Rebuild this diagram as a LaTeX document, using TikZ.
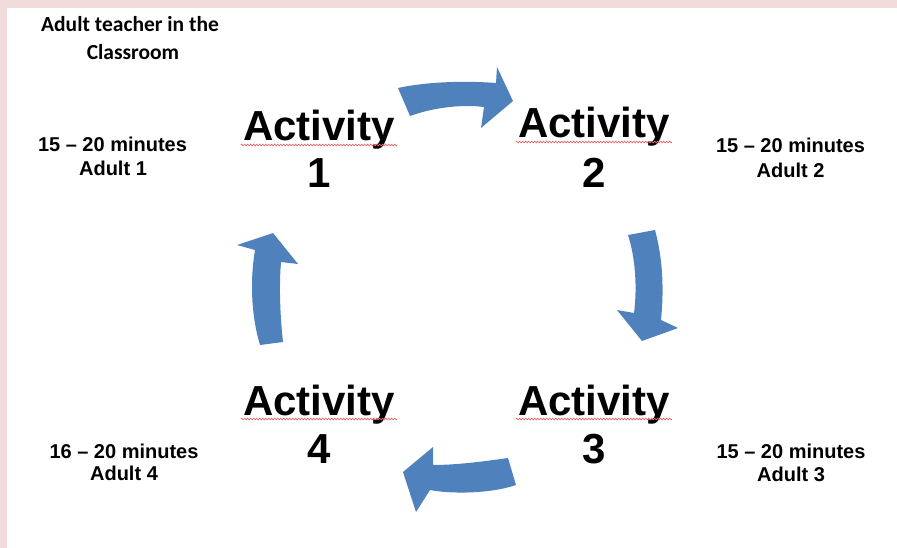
\documentclass[tikz,border=0pt]{standalone}
\usepackage{fontspec}
\setmainfont{Liberation Sans}
\newfontfamily\titlefont{Carlito}
\usetikzlibrary{decorations.pathmorphing}
\definecolor{bgpink}{HTML}{F2DCDB}
\definecolor{arrowblue}{HTML}{4F81BD}
\definecolor{squig}{HTML}{E86A6A}
\tikzset{
  actbox/.style={inner sep=0pt, anchor=base, font=\fontsize{42}{47}\selectfont\bfseries},
  numbox/.style={inner sep=0pt, anchor=base, font=\fontsize{42}{47}\selectfont\bfseries},
  timebox/.style={inner sep=0pt, anchor=base, font=\fontsize{20}{24}\selectfont\bfseries},
  titlebox/.style={inner sep=0pt, anchor=base, font=\titlefont\fontsize{21.5}{26}\selectfont\bfseries},
  blockarrow/.style={fill=arrowblue, draw=none},
  spell/.style={draw=squig, line width=0.7pt, decorate,
    decoration={zigzag, segment length=3pt, amplitude=0.9pt}}
}
\begin{document}
\begin{tikzpicture}[x=1pt,y=-1pt]
\useasboundingbox (0,0) rectangle (897,548);
\fill[bgpink] (0,0) rectangle (897,548);
\fill[white] (7,8) rectangle (897,548);

% title
\node[titlebox] (title1) at (130,32) {Adult teacher in the};
\node[titlebox] (title2) at (133,60) {Classroom};

% activities
\node[actbox] (a1) at (319,141) {Activity};
\node[numbox] (n1) at (319,188) {1};
\node[actbox] (a2) at (594,138) {Activity};
\node[numbox] (n2) at (594,188) {2};
\node[actbox] (a3) at (594,415) {Activity};
\node[numbox] (n3) at (594,463) {3};
\node[actbox] (a4) at (319,415) {Activity};
\node[numbox] (n4) at (319,463) {4};

% spell-check underlines
\foreach \a in {a1,a2,a3,a4}{
  \draw[spell] ([xshift=-2pt,yshift=-4pt]\a.base west) -- ([xshift=2pt,yshift=-4pt]\a.base east);
}

% time / adult labels
\node[timebox] (t1) at (112.5,152) {15 – 20 minutes};
\node[timebox] (d1) at (113,176) {Adult 1};
\node[timebox] (t2) at (790.5,153) {15 – 20 minutes};
\node[timebox] (d2) at (790.5,178) {Adult 2};
\node[timebox] (t3) at (791,458) {15 – 20 minutes};
\node[timebox] (d3) at (791,481) {Adult 3};
\node[timebox] (t4) at (124,458) {16 – 20 minutes};
\node[timebox] (d4) at (124,480) {Adult 4};

% curved block arrows
\fill[blockarrow] (398,88) .. controls (430,81) and (470,81) .. (496,83)
  -- (497,67) -- (513,101) -- (481,128) -- (484,107)
  .. controls (460,104) and (432,108) .. (410,116) -- cycle;
\fill[blockarrow] (628,235) -- (655,230) .. controls (663,260) and (664,290) .. (661,320)
  -- (678,328) -- (642,341) -- (617,310) -- (634,313)
  .. controls (637,290) and (636,260) .. (628,235) -- cycle;
\fill[blockarrow] (508,458) .. controls (480,462) and (455,465) .. (433,465)
  -- (433,447) -- (403,472) -- (416,512) -- (430,490)
  .. controls (450,494) and (490,494) .. (516,485) -- cycle;
\fill[blockarrow] (260,345) -- (283,342) .. controls (280,315) and (279,285) .. (281,262)
  -- (298,264) -- (273,233) -- (237,245) -- (255,250)
  .. controls (250,280) and (251,315) .. (260,345) -- cycle;
\end{tikzpicture}
\end{document}
